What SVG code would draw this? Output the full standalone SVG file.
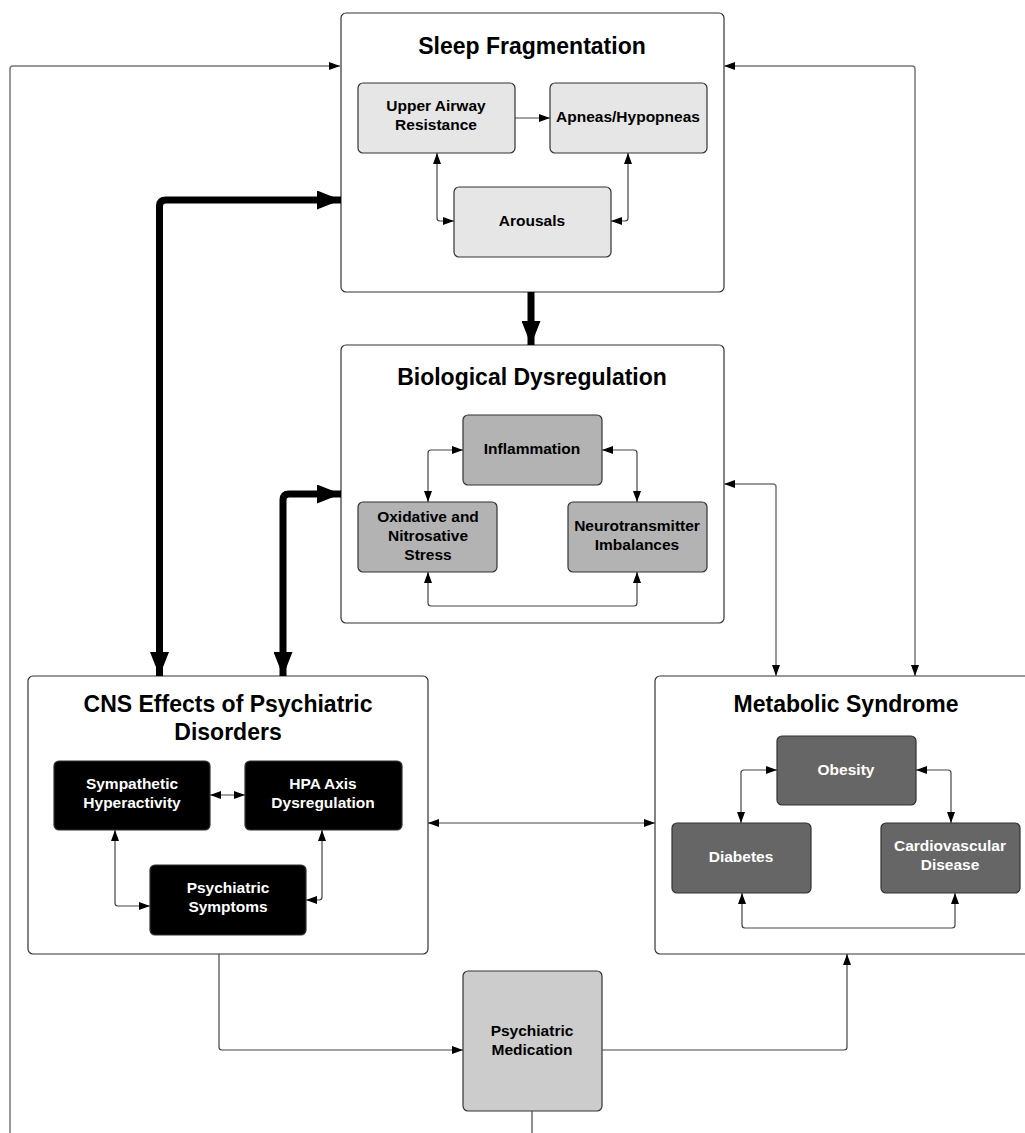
<svg xmlns="http://www.w3.org/2000/svg" width="1025" height="1133" viewBox="0 0 1025 1133">
<style>
.outer{fill:#fff;stroke:#333;stroke-width:1.2}
.inner{stroke:#333;stroke-width:1.2}
.t{font-family:"Liberation Sans",Arial,sans-serif;font-weight:bold;text-anchor:middle}
.title{font-size:23px;fill:#000}
.lbl{font-size:15.5px}
.c{fill:none;stroke:#444;stroke-width:1.2;stroke-linejoin:round}
.cg{fill:none;stroke:#777;stroke-width:1.5;stroke-linejoin:round}
.thick{fill:none;stroke:#000;stroke-width:7;stroke-linejoin:round}
</style>
<defs>
<marker id="a" markerUnits="userSpaceOnUse" markerWidth="11" markerHeight="8" refX="11" refY="4" orient="auto-start-reverse"><path d="M0,0 L11,4 L0,8 z" fill="#000"/></marker>
<marker id="A" markerUnits="userSpaceOnUse" markerWidth="24" markerHeight="19" refX="24" refY="9.5" orient="auto-start-reverse"><path d="M0,0 L24,9.5 L0,19 z" fill="#000"/></marker>
</defs>
<rect width="1025" height="1133" fill="#fff"/>

<g id="sleep">
<rect class="outer" x="341" y="13" width="383" height="279" rx="5"/>
<text class="t title" x="532" y="54">Sleep Fragmentation</text>
</g>
<g id="upper-airway">
<rect class="inner" x="358" y="83" width="157" height="70" rx="5" fill="#e6e6e6"/>
<text class="t lbl" x="436" y="111">Upper Airway</text>
<text class="t lbl" x="436" y="130">Resistance</text>
</g>
<g id="apneas">
<rect class="inner" x="550" y="83" width="157" height="70" rx="5" fill="#e6e6e6"/>
<text class="t lbl" x="628" y="122">Apneas/Hypopneas</text>
</g>
<g id="arousals">
<rect class="inner" x="454" y="187" width="157" height="70" rx="5" fill="#e6e6e6"/>
<text class="t lbl" x="532" y="226">Arousals</text>
</g>

<g id="bio">
<rect class="outer" x="341" y="345" width="383" height="278" rx="5"/>
<text class="t title" x="532" y="385">Biological Dysregulation</text>
</g>
<g id="inflammation">
<rect class="inner" x="463" y="415" width="139" height="70" rx="5" fill="#b3b3b3"/>
<text class="t lbl" x="532" y="454">Inflammation</text>
</g>
<g id="oxidative">
<rect class="inner" x="358" y="502" width="139" height="70" rx="5" fill="#b3b3b3"/>
<text class="t lbl" x="428" y="522">Oxidative and</text>
<text class="t lbl" x="428" y="541">Nitrosative</text>
<text class="t lbl" x="428" y="560">Stress</text>
</g>
<g id="neuro">
<rect class="inner" x="568" y="502" width="139" height="70" rx="5" fill="#b3b3b3"/>
<text class="t lbl" x="637" y="531">Neurotransmitter</text>
<text class="t lbl" x="637" y="550">Imbalances</text>
</g>

<g id="cns">
<rect class="outer" x="28" y="676" width="400" height="278" rx="5"/>
<text class="t title" x="228" y="712">CNS Effects of Psychiatric</text>
<text class="t title" x="228" y="740">Disorders</text>
</g>
<g id="sympathetic">
<rect class="inner" x="54" y="761" width="156" height="69" rx="5" fill="#000"/>
<text class="t lbl" x="132" y="789" fill="#fff">Sympathetic</text>
<text class="t lbl" x="132" y="808" fill="#fff">Hyperactivity</text>
</g>
<g id="hpa">
<rect class="inner" x="245" y="761" width="157" height="69" rx="5" fill="#000"/>
<text class="t lbl" x="323" y="789" fill="#fff">HPA Axis</text>
<text class="t lbl" x="323" y="808" fill="#fff">Dysregulation</text>
</g>
<g id="symptoms">
<rect class="inner" x="150" y="865" width="156" height="70" rx="5" fill="#000"/>
<text class="t lbl" x="228" y="893" fill="#fff">Psychiatric</text>
<text class="t lbl" x="228" y="912" fill="#fff">Symptoms</text>
</g>

<g id="metabolic">
<rect class="outer" x="655" y="676" width="385" height="278" rx="5"/>
<text class="t title" x="846" y="712">Metabolic Syndrome</text>
</g>
<g id="obesity">
<rect class="inner" x="777" y="736" width="139" height="69" rx="5" fill="#666"/>
<text class="t lbl" x="846" y="775" fill="#fff">Obesity</text>
</g>
<g id="diabetes">
<rect class="inner" x="672" y="823" width="139" height="70" rx="5" fill="#666"/>
<text class="t lbl" x="741" y="862" fill="#fff">Diabetes</text>
</g>
<g id="cardio">
<rect class="inner" x="881" y="823" width="139" height="70" rx="5" fill="#666"/>
<text class="t lbl" x="950" y="851" fill="#fff">Cardiovascular</text>
<text class="t lbl" x="950" y="870" fill="#fff">Disease</text>
</g>

<g id="medication">
<rect class="inner" x="463" y="971" width="139" height="140" rx="5" fill="#ccc"/>
<text class="t lbl" x="532" y="1036">Psychiatric</text>
<text class="t lbl" x="532" y="1055">Medication</text>
</g>

<g id="connectors">
<path class="cg" d="M10,1133 V69 Q10,66 13,66 H340" marker-end="url(#a)"/>
<path class="cg" d="M724,66 H912 Q915,66 915,69 V676" marker-start="url(#a)" marker-end="url(#a)"/>
<path class="cg" d="M724,484 H773 Q776,484 776,487 V676" marker-start="url(#a)" marker-end="url(#a)"/>
<path class="c" d="M428,823 H655" marker-start="url(#a)" marker-end="url(#a)"/>
<path class="c" d="M219,954 V1047 Q219,1050 222,1050 H463" marker-end="url(#a)"/>
<path class="c" d="M602,1050 H844 Q847,1050 847,1047 V954" marker-end="url(#a)"/>
<path class="c" d="M532,1111 V1133"/>
<path class="thick" d="M159.5,676 V206 Q159.5,200 166,200 H341" marker-start="url(#A)" marker-end="url(#A)"/>
<path class="thick" d="M283,676 V500 Q283,494 289,494 H341" marker-start="url(#A)" marker-end="url(#A)"/>
<path class="thick" d="M531,292 V345" marker-end="url(#A)"/>
<path class="c" d="M515,118 H550" marker-end="url(#a)"/>
<path class="c" d="M437,153 V218 Q437,221 440,221 H454" marker-start="url(#a)" marker-end="url(#a)"/>
<path class="c" d="M628,153 V218 Q628,221 625,221 H611" marker-start="url(#a)" marker-end="url(#a)"/>
<path class="c" d="M463,450 H431 Q428,450 428,453 V502" marker-start="url(#a)" marker-end="url(#a)"/>
<path class="c" d="M602,450 H634 Q637,450 637,453 V502" marker-start="url(#a)" marker-end="url(#a)"/>
<path class="c" d="M428,572 V603 Q428,606 431,606 H634 Q637,606 637,603 V572" marker-start="url(#a)" marker-end="url(#a)"/>
<path class="c" d="M210,795 H245" marker-start="url(#a)" marker-end="url(#a)"/>
<path class="c" d="M115,830 V903 Q115,906 118,906 H150" marker-start="url(#a)" marker-end="url(#a)"/>
<path class="c" d="M322,830 V897 Q322,900 319,900 H306" marker-start="url(#a)" marker-end="url(#a)"/>
<path class="c" d="M777,770 H744 Q741,770 741,773 V823" marker-start="url(#a)" marker-end="url(#a)"/>
<path class="c" d="M916,770 H948 Q951,770 951,773 V823" marker-start="url(#a)" marker-end="url(#a)"/>
<path class="c" d="M742,893 V925 Q742,928 745,928 H952 Q955,928 955,925 V893" marker-start="url(#a)" marker-end="url(#a)"/>
</g>
</svg>
